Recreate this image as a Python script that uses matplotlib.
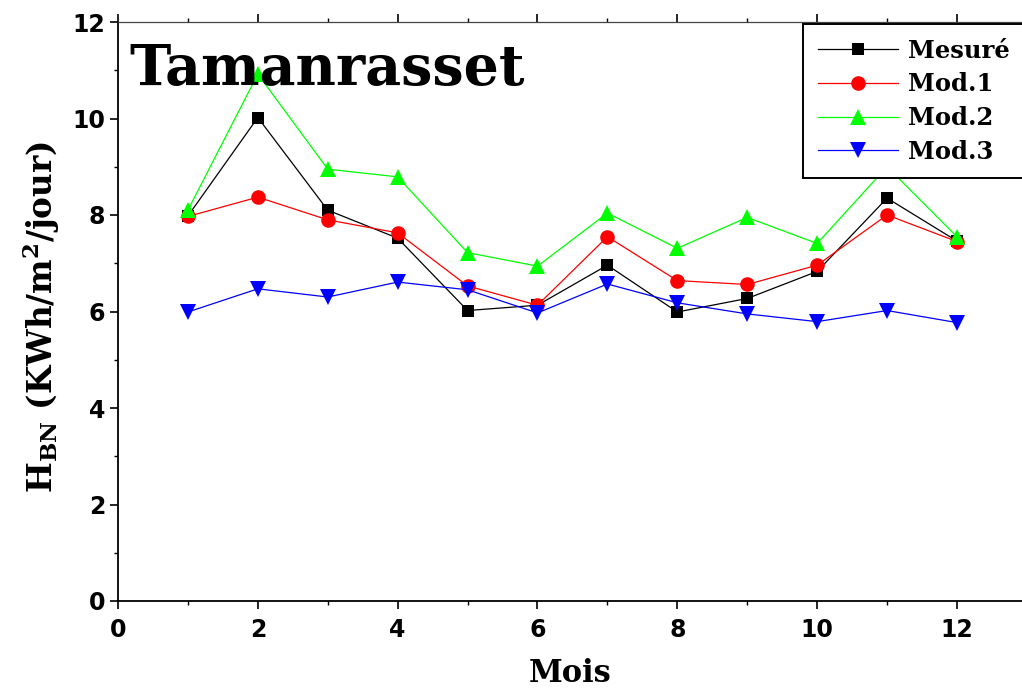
import matplotlib
matplotlib.use("Agg")
import matplotlib.pyplot as plt
from matplotlib.ticker import MultipleLocator

months = [1, 2, 3, 4, 5, 6, 7, 8, 9, 10, 11, 12]
mesure = [7.98, 10.02, 8.10, 7.52, 6.02, 6.13, 6.96, 5.99, 6.27, 6.83, 8.35, 7.46]
mod1 = [7.97, 8.37, 7.90, 7.63, 6.53, 6.13, 7.55, 6.64, 6.56, 6.96, 8.00, 7.45]
mod2 = [8.10, 10.92, 8.95, 8.79, 7.22, 6.94, 8.04, 7.31, 7.95, 7.41, 9.00, 7.55]
mod3 = [5.99, 6.47, 6.30, 6.61, 6.45, 5.97, 6.57, 6.18, 5.95, 5.79, 6.02, 5.77]
series_labels = ["Mesuré", "Mod.1", "Mod.2", "Mod.3"]
title_text = "Tamanrasset"
xlabel_text = "Mois"
ylabel_text = r"H$_{BN}$ (KWh/m$^{2}$/jour)"

plt.rcParams["mathtext.default"] = "regular"

fig = plt.figure(figsize=(10.22, 6.88), dpi=100)
ax = fig.add_axes([118 / 1022, 1 - 601 / 688, (1022 - 118) / 1022, (601 - 22) / 688])

styles = [
    dict(color="black", marker="s", ms=9),
    dict(color="red", marker="o", ms=10.5),
    dict(color="#00ff00", marker="^", ms=11),
    dict(color="blue", marker="v", ms=11),
]
for vals, lab, st in zip([mesure, mod1, mod2, mod3], series_labels, styles):
    ax.plot(months, vals, color=st["color"], lw=0.9, marker=st["marker"],
            ms=st["ms"], mfc=st["color"], mec=st["color"], mew=0, label=lab)

ax.set_xlim(0, 12.93)
ax.set_ylim(0, 12)
ax.xaxis.set_major_locator(MultipleLocator(2))
ax.xaxis.set_minor_locator(MultipleLocator(1))
ax.yaxis.set_major_locator(MultipleLocator(2))
ax.yaxis.set_minor_locator(MultipleLocator(1))

ax.spines["right"].set_visible(False)
for s in ["left", "bottom"]:
    ax.spines[s].set_linewidth(1.3)
ax.spines["top"].set_linewidth(0.9)
ax.spines["top"].set_color("#444444")

ax.tick_params(which="major", direction="out", length=6, width=1.2,
               top=True, right=False)
ax.tick_params(which="minor", direction="out", length=3, width=1.0,
               top=True, right=False)
ax.tick_params(axis="x", which="major", pad=6)
ax.tick_params(axis="y", which="major", pad=3)
for lbl in ax.get_xticklabels() + ax.get_yticklabels():
    lbl.set_fontfamily("DejaVu Sans")
    lbl.set_fontweight("bold")
    lbl.set_fontsize(17)

ax.set_xlabel(xlabel_text, fontfamily="DejaVu Serif", fontweight="bold",
              fontsize=22, labelpad=12)
ax.set_ylabel(ylabel_text, fontfamily="DejaVu Serif", fontweight="bold",
              fontsize=23.5)
ax.yaxis.set_label_coords(-0.062, 0.49)

ax.text(0.013, 0.918, title_text, transform=ax.transAxes, ha="left",
        va="center", fontfamily="DejaVu Serif", fontweight="bold",
        fontsize=40, zorder=5)

leg = ax.legend(loc="upper left", bbox_to_anchor=(803 / 1022, 1 - 24 / 688),
                bbox_transform=fig.transFigure, borderaxespad=0,
                frameon=True, fancybox=False,
                framealpha=1, edgecolor="black", handlelength=3.3,
                handletextpad=0.4, labelspacing=0.4, borderpad=0.6,
                prop=dict(family="DejaVu Serif", weight="bold", size=17.5))
leg.get_frame().set_linewidth(1.4)

fig.savefig("out.png", dpi=100)
